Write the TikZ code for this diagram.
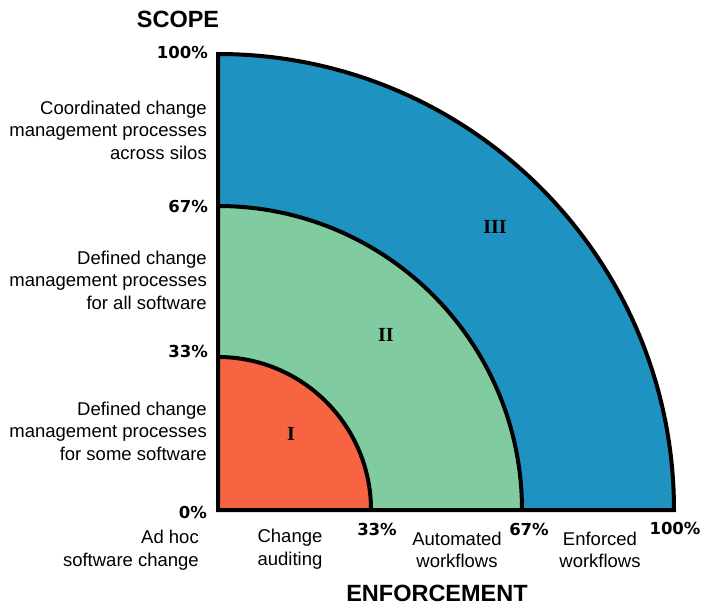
\documentclass[tikz,border=0pt]{standalone}
\usepackage{fontspec}
\usetikzlibrary{calc}
\setmainfont{Liberation Sans}
\newfontfamily\pctfont{DejaVu Sans}
\newfontfamily\romanfont{Liberation Serif}
\definecolor{ringblue}{HTML}{1E92C0}
\definecolor{ringgreen}{HTML}{80CCA0}
\definecolor{ringred}{HTML}{F66442}
\begin{document}
\begin{tikzpicture}[x=1pt,y=1pt,
  desc/.style={inner sep=0pt, font=\fontsize{18.5}{22.5}\selectfont},
  pct/.style={inner sep=0pt, font=\pctfont\bfseries\fontsize{16.5}{20}\selectfont},
  axistitle/.style={inner sep=0pt, font=\bfseries\fontsize{23.5}{28}\selectfont},
  zone/.style={inner sep=0pt, font=\romanfont\bfseries\fontsize{20}{22}\selectfont},
  ring/.style={draw=black, line width=4pt, line join=miter}]
\useasboundingbox (0,0) rectangle (705,-607);
\coordinate (O) at (218,-510);
% filled quarter rings, largest first
\path[fill=ringblue] (O) -- ++(0,456) arc[start angle=90, end angle=0, radius=456] -- cycle;
\path[fill=ringgreen] (O) -- ++(0,304) arc[start angle=90, end angle=0, radius=304] -- cycle;
\path[fill=ringred] (O) -- ++(0,153) arc[start angle=90, end angle=0, radius=153] -- cycle;
% boundaries
\draw[ring] ($(O)+(0,153)$) arc[start angle=90, end angle=0, radius=153];
\draw[ring] ($(O)+(0,304)$) arc[start angle=90, end angle=0, radius=304];
\draw[ring] (O) -- ++(0,456) arc[start angle=90, end angle=0, radius=456] -- cycle;
% zone labels
\node[zone] (z1) at (291,-434) {I};
\node[zone] (z2) at (386,-335) {II};
\node[zone] (z3) at (495,-227) {III};
% vertical axis
\node[axistitle] (scope) at (178,-19.5) {SCOPE};
\node[pct, anchor=east] (v100) at (208,-52) {100\%};
\node[pct, anchor=east] (v67) at (208,-206) {67\%};
\node[pct, anchor=east] (v33) at (208,-351) {33\%};
\node[pct, anchor=east] (v0) at (207,-512) {0\%};
\node[desc, anchor=east, align=right] (s3) at (207,-130) {Coordinated change\\management processes\\across silos};
\node[desc, anchor=east, align=right] (s2) at (207,-280) {Defined change\\management processes\\for all software};
\node[desc, anchor=east, align=right] (s1) at (207,-431) {Defined change\\management processes\\for some software};
% horizontal axis
\node[desc, anchor=east, align=right] (e0) at (199,-550) {Ad hoc\\software change};
\node[desc, align=center] (e1) at (290,-549) {Change\\auditing};
\node[pct] (h33) at (377,-529) {33\%};
\node[desc, align=center] (e2) at (457,-550) {Automated\\workflows};
\node[pct] (h67) at (529,-529) {67\%};
\node[desc, align=center] (e3) at (600,-550) {Enforced\\workflows};
\node[pct] (h100) at (675,-528) {100\%};
\node[axistitle] (enf) at (437,-593) {ENFORCEMENT};
\end{tikzpicture}
\end{document}
